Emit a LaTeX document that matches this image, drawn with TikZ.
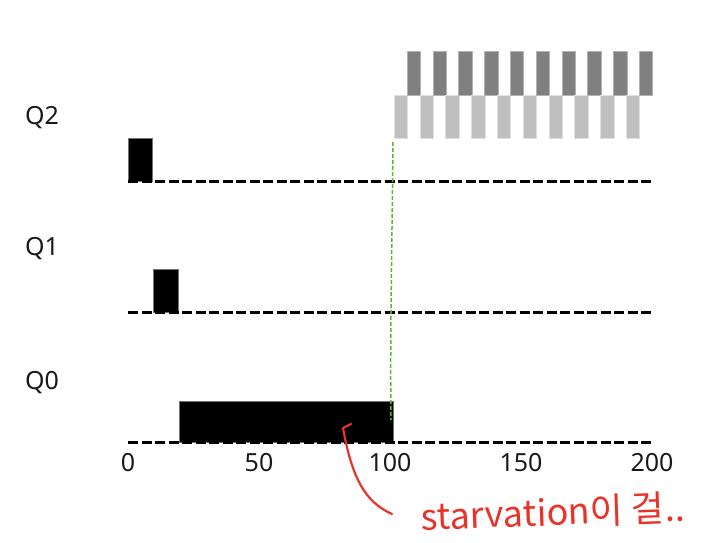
\documentclass[tikz,border=0pt]{standalone}
\usepackage{fontspec}
\setmainfont{Noto Sans}
\newfontfamily\krfont{Noto Sans CJK KR}
\definecolor{penred}{RGB}{232,52,40}
\definecolor{guidegreen}{RGB}{90,185,50}
\begin{document}
\begin{tikzpicture}[x=1pt,y=-1pt,
  lbl/.style={font=\fontsize{25}{29}\selectfont, text=black!90, inner sep=0pt},
  axisline/.style={line width=3pt, dash pattern=on 10pt off 3.5pt},
  job/.style={fill=black, draw=black!55, line width=0.6pt},
  lightbar/.style={fill=black!25, draw=black!12, line width=0.6pt},
  darkbar/.style={fill=black!50, draw=black!30, line width=0.6pt},
  redpen/.style={draw=penred, line width=2.2pt, line cap=round, line join=round}]
\useasboundingbox (0,0) rectangle (702,542);
% queue labels
\node[lbl] (q2) at (42,118) {Q2};
\node[lbl] (q1) at (42,249) {Q1};
\node[lbl] (q0) at (42,383) {Q0};
% jobs
\draw[job] (128,138) rectangle (152,181);
\draw[job] (153,269) rectangle (178,312);
\draw[job] (179,401) rectangle (393,442);
% alternating bars
\foreach \i in {0,...,9}{
  \draw[lightbar] ({394+25.8*\i},95) rectangle ({407.4+25.8*\i},138);
  \draw[darkbar] ({407+25.8*\i},51) rectangle ({420.4+25.8*\i},95);
}
% dashed time lines
\draw[axisline] (128,181) -- (652,181);
\draw[axisline] (128,312) -- (652,312);
\draw[axisline] (128,442) -- (652,442);
% axis labels
\foreach \v/\x in {0/128,50/259,100/390,150/521,200/652}
  \node[lbl] (t\v) at (\x,463) {\v};
% green dashed line
\draw[guidegreen, line width=1.5pt, dash pattern=on 4pt off 2pt]
  (393,142) .. controls (392,250) and (390,330) .. (391,420);
% red hand-drawn arrow
\draw[redpen] (392,514) .. controls (365,502) and (352,478) .. (343,428) -- (351,424);
\node[inner sep=0pt, text=penred, font=\krfont\fontsize{36}{40}\selectfont, rotate=2] (note) at (553,512) {starvation이 걸..};
\end{tikzpicture}
\end{document}
